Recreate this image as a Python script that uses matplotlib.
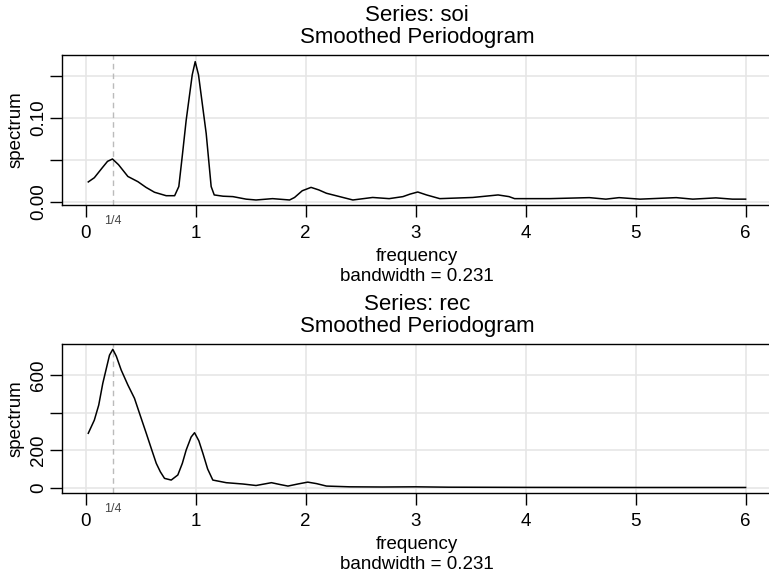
import matplotlib
matplotlib.use("Agg")
import matplotlib.pyplot as plt

plt.rcParams['font.family'] = ['Liberation Sans', 'DejaVu Sans']

# smoothed periodogram of soi (frequency in cycles per year)
soi_freq = [0.025, 0.08, 0.15, 0.20, 0.245, 0.30, 0.385, 0.476, 0.55, 0.627,
            0.733, 0.81, 0.848, 0.88, 0.915, 0.97, 0.997, 1.027, 1.06, 1.097,
            1.142, 1.17, 1.25, 1.34, 1.46, 1.55, 1.70, 1.855, 1.90, 1.97,
            2.05, 2.12, 2.19, 2.31, 2.43, 2.61, 2.76, 2.885, 2.95, 3.02,
            3.10, 3.22, 3.52, 3.75, 3.85, 3.90, 4.22, 4.58, 4.73, 4.85,
            5.04, 5.37, 5.52, 5.73, 5.88, 6.0]
soi_spec = [0.0235, 0.0285, 0.040, 0.048, 0.0508, 0.044, 0.030, 0.0238, 0.017, 0.0112,
            0.0071, 0.0071, 0.018, 0.055, 0.097, 0.151, 0.1667, 0.151, 0.118, 0.081,
            0.018, 0.008, 0.0065, 0.006, 0.003, 0.002, 0.0036, 0.002, 0.005, 0.013,
            0.017, 0.014, 0.010, 0.006, 0.002, 0.005, 0.0036, 0.006, 0.009, 0.0115,
            0.008, 0.0036, 0.005, 0.008, 0.006, 0.0036, 0.0036, 0.0048, 0.003, 0.0048,
            0.003, 0.0048, 0.003, 0.0045, 0.003, 0.003]

# smoothed periodogram of rec
rec_freq = [0.025, 0.08, 0.12, 0.157, 0.218, 0.248, 0.28, 0.324, 0.385, 0.445,
            0.50, 0.552, 0.60, 0.643, 0.68, 0.718, 0.779, 0.839, 0.88, 0.915,
            0.96, 0.991, 1.03, 1.067, 1.11, 1.157, 1.279, 1.43, 1.55, 1.69,
            1.77, 1.84, 1.93, 2.02, 2.10, 2.19, 2.40, 2.70, 3.0, 3.3,
            4.0, 5.0, 6.0]
rec_spec = [290, 360, 440, 556, 706, 737, 700, 627, 547, 476,
            380, 290, 205, 130, 85, 50, 41, 68, 130, 201,
            270, 293, 250, 183, 100, 41, 27, 20, 12, 27,
            17, 9, 20, 30, 22, 9, 5, 4, 5, 3,
            2, 1.5, 1.5]

xticks = [0, 1, 2, 3, 4, 5, 6]
soi_yticks = [0.0, 0.05, 0.10, 0.15]
soi_ylabels = ['0.00', '', '0.10', '']
rec_yticks = [0, 200, 400, 600]
rec_ylabels = ['0', '200', '', '600']

panels = [
    ('soi', soi_freq, soi_spec, soi_yticks, soi_ylabels, (-0.0040, 0.1746),
     [0.0806, 0.6459, 0.9233, 0.2591]),
    ('rec', rec_freq, rec_spec, rec_yticks, rec_ylabels, (-28, 765),
     [0.0806, 0.1485, 0.9233, 0.2573]),
]

fig = plt.figure(figsize=(7.69, 5.79), dpi=100)

for name, fr, sp, yt, yl, ylim, pos in panels:
    ax = fig.add_axes(pos)
    for x in xticks:
        ax.axvline(x, color='#e6e6e6', lw=1.2, zorder=0)
    for y in yt:
        ax.axhline(y, color='#e6e6e6', lw=1.2, zorder=0)
    ax.axvline(0.25, color='#bbbbbb', lw=1.0, ls=(0, (4, 3)), zorder=1)
    ax.plot(fr, sp, color='black', lw=1.1, zorder=2)

    ax.set_xlim(-0.214, 6.24)
    ax.set_ylim(*ylim)
    ax.set_xticks(xticks)
    ax.set_xticklabels([str(x) for x in xticks])
    ax.set_yticks(yt)
    ax.set_yticklabels(yl, rotation=90, va='center')
    ax.tick_params(direction='out', length=8.5, width=1, labelsize=13.5, color='black')
    ax.tick_params(axis='x', pad=6)
    ax.tick_params(axis='y', pad=2)
    for s in ax.spines.values():
        s.set_linewidth(1)
        s.set_color('black')

    ax.text(0.25, -0.105, '1/4', transform=ax.get_xaxis_transform(),
            ha='center', va='center', fontsize=9, color='#444444')

    ax.set_xlabel('frequency\nbandwidth = 0.231', fontsize=13.5, labelpad=4, linespacing=1.22)
    ax.set_ylabel('spectrum', fontsize=13.5, labelpad=4)
    ax.set_title('Series: %s\nSmoothed Periodogram' % name, fontsize=16,
                 linespacing=1.08, pad=8.5)

fig.savefig('out.png', dpi=100)
